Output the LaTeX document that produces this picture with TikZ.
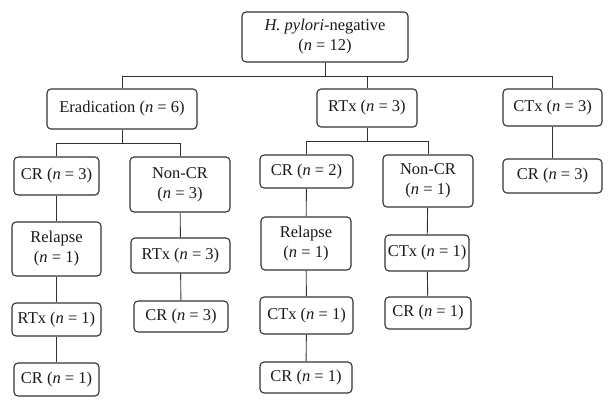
\documentclass[tikz,border=0pt]{standalone}
\usepackage{fontspec}
\setmainfont{Liberation Serif}
\usepackage{tikz}
\newcommand{\nof}[1]{(\textit{n} = #1)}

\begin{document}
\begin{tikzpicture}
[x=1pt,y=-1pt,
box/.style={rectangle,rounded corners=4pt,draw=black!80,line width=1.1pt,
inner sep=1pt,align=center,text=black!90,
font=\fontsize{16.5}{20}\selectfont},
link/.style={draw=black!80,line width=0.9pt}
]
\useasboundingbox (0,0) rectangle (613,407);
% top level
\node [box,minimum width=166pt,minimum height=50pt] (hp) at (325,37)
{\textit{H. pylori}-negative\\\nof{12}};
% first treatment
\node [box,minimum width=150pt,minimum height=40pt] (era) at (122,109) {Eradication \nof{6}};
\node [box,minimum width=100pt,minimum height=38pt] (rtx) at (367,108) {RTx \nof{3}};
\node [box,minimum width=99pt,minimum height=37pt] (ctx) at (552.5,107.5) {CTx \nof{3}};
% response
\node [box,minimum width=85pt,minimum height=38pt] (eraCR) at (56.5,176) {CR \nof{3}};
\node [box,minimum width=100pt,minimum height=55pt] (eraNon) at (180,184.5) {Non-CR\\\nof{3}};
\node [box,minimum width=93pt,minimum height=33pt] (rtxCR) at (306.5,171.5) {CR \nof{2}};
\node [box,minimum width=90pt,minimum height=52pt] (rtxNon) at (428,181) {Non-CR\\\nof{1}};
\node [box,minimum width=99pt,minimum height=34pt] (ctxCR) at (552.5,176) {CR \nof{3}};
% relapse / second line
\node [box,minimum width=89pt,minimum height=54pt] (eraRel) at (56.5,249) {Relapse\\\nof{1}};
\node [box,minimum width=99pt,minimum height=35pt] (eraNonRT) at (180.5,255.5) {RTx \nof{3}};
\node [box,minimum width=90pt,minimum height=53pt] (rtxRel) at (306,243.5) {Relapse\\\nof{1}};
\node [box,minimum width=84pt,minimum height=36pt] (rtxNonCT) at (427,253) {CTx \nof{1}};
% third line
\node [box,minimum width=89pt,minimum height=33pt] (eraRelRT) at (56.5,319.5) {RTx \nof{1}};
\node [box,minimum width=94pt,minimum height=31pt] (eraNonCR) at (181,316.5) {CR \nof{3}};
\node [box,minimum width=93pt,minimum height=37pt] (rtxRelCT) at (306.5,315.5) {CTx \nof{1}};
\node [box,minimum width=86pt,minimum height=32pt] (rtxNonCR) at (428,313) {CR \nof{1}};
% final
\node [box,minimum width=85pt,minimum height=33pt] (eraRelCR) at (56.5,379.5) {CR \nof{1}};
\node [box,minimum width=92pt,minimum height=31pt] (rtxRelCR) at (306,377.5) {CR \nof{1}};
% branch levels
\coordinate (bar0) at (0,76);
\coordinate (bar1) at (0,143);
\coordinate (bar2) at (0,141);
% connectors
\foreach \c in {era,rtx,ctx}
  \draw [link] (hp.south) -- (hp.south |- bar0) -| (\c.north);
\foreach \c in {eraCR,eraNon}
  \draw [link] (era.south) -- (era.south |- bar1) -| (\c.north);
\foreach \c in {rtxCR,rtxNon}
  \draw [link] (rtx.south) -- (rtx.south |- bar2) -| (\c.north);
\draw [link] (ctx) -- (ctxCR);
\draw [link] (eraCR) -- (eraRel);
\draw [link] (eraRel) -- (eraRelRT);
\draw [link] (eraRelRT) -- (eraRelCR);
\draw [link] (eraNon) -- (eraNonRT);
\draw [link] (eraNonRT) -- (eraNonCR);
\draw [link] (rtxCR) -- (rtxRel);
\draw [link] (rtxRel) -- (rtxRelCT);
\draw [link] (rtxRelCT) -- (rtxRelCR);
\draw [link] (rtxNon) -- (rtxNonCT);
\draw [link] (rtxNonCT) -- (rtxNonCR);
\end{tikzpicture}
\end{document}
